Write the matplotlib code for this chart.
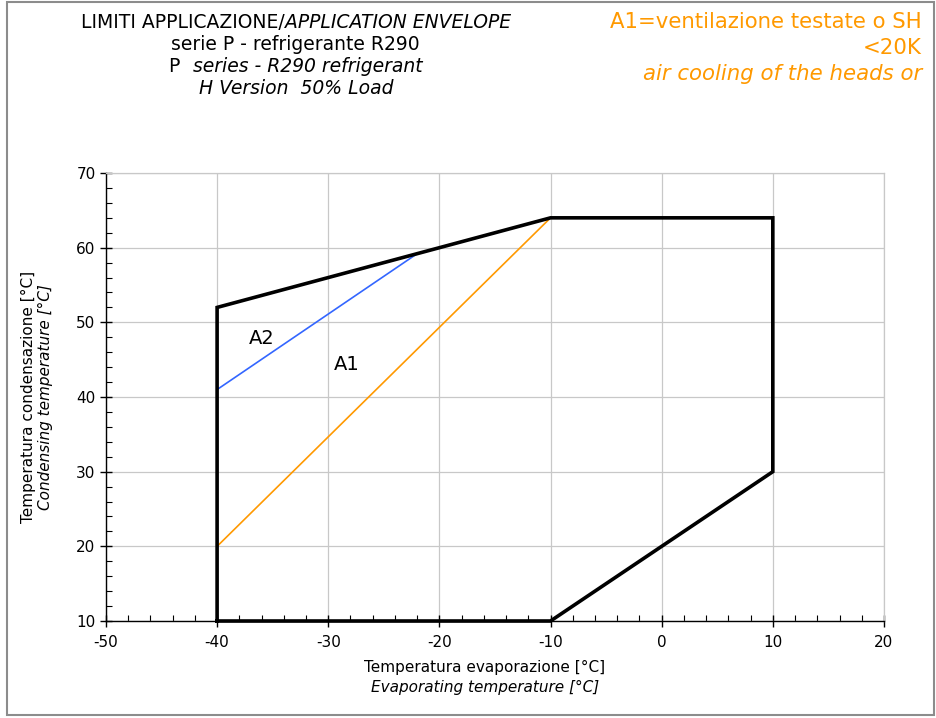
import matplotlib
matplotlib.use("Agg")
import matplotlib.pyplot as plt
from matplotlib.ticker import MultipleLocator
from matplotlib.patches import Rectangle

plt.rcParams['font.family'] = ['DejaVu Sans']
plt.rcParams['axes.unicode_minus'] = False

# Application envelope (evaporating T, condensing T)
env_te = [-40, -40, -10, 10, 10, -10, -40]
env_tc = [10, 52, 64, 64, 30, 10, 10]

# A1 boundary (orange) and A2 boundary (blue)
a1_te = [-40, -10]
a1_tc = [20, 64]
a2_te = [-40, -22]
a2_tc = [41, 59.2]

zone_labels = ["A2", "A1"]
zone_te = [-36.0, -28.3]
zone_tc = [47.9, 44.3]

x_ticks = [-50, -40, -30, -20, -10, 0, 10, 20]
y_ticks = [10, 20, 30, 40, 50, 60, 70]

W, H = 936, 718
fig = plt.figure(figsize=(W / 100, H / 100), dpi=100)
ax = fig.add_axes([0.1132, 0.1351, 0.8312, 0.6239])

ax.plot(env_te, env_tc, color='black', lw=2.6, solid_joinstyle='miter', zorder=4, clip_on=False)
ax.plot(a1_te, a1_tc, color='#FF9900', lw=1.2, zorder=3)
ax.plot(a2_te, a2_tc, color='#3366FF', lw=1.2, zorder=3)

for lab, xv, yv in zip(zone_labels, zone_te, zone_tc):
    ax.text(xv, yv, lab, fontsize=14, ha='center', va='center', color='black')

ax.set_xlim(-50, 20)
ax.set_ylim(10, 70)
ax.set_xticks(x_ticks)
ax.set_yticks(y_ticks)
ax.xaxis.set_minor_locator(MultipleLocator(2))
ax.yaxis.set_minor_locator(MultipleLocator(2))
ax.grid(True, which='major', color='#C8C8C8', lw=0.9)
ax.set_axisbelow(True)
for s in ['top', 'right']:
    ax.spines[s].set_color('#C8C8C8')
    ax.spines[s].set_linewidth(0.9)
for s in ['left', 'bottom']:
    ax.spines[s].set_linewidth(1.0)
ax.tick_params(which='major', direction='inout', length=8, width=1, labelsize=11, colors='black')
ax.tick_params(which='minor', direction='in', length=4, width=0.8)
ax.tick_params(axis='x', pad=6)

fig.text(0.518, 0.070, "Temperatura evaporazione [°C]", ha='center', va='center', fontsize=11)
fig.text(0.518, 0.042, "Evaporating temperature [°C]", ha='center', va='center', fontsize=11, style='italic')

fig.text(0.030, 0.447, "Temperatura condensazione [°C]", rotation=90, ha='center', va='center', fontsize=11)
fig.text(0.049, 0.447, "Condensing temperature [°C]", rotation=90, ha='center', va='center', fontsize=11, style='italic')


def mixed_line(xc, y, pieces, size, color='black'):
    """Draw a line made of roman/italic pieces, centred at xc (figure coords)."""
    renderer = fig.canvas.get_renderer()
    arts = []
    for txt, st in pieces:
        t = fig.text(0, y, txt, ha='left', va='center', fontsize=size, style=st, color=color)
        arts.append(t)
    widths = [a.get_window_extent(renderer).width / W for a in arts]
    x = xc - sum(widths) / 2
    for a, w in zip(arts, widths):
        a.set_x(x)
        x += w


# Title block
tx = 0.316
ts = 13.5
mixed_line(tx, 0.969, [("LIMITI APPLICAZIONE/", 'normal'), ("APPLICATION ENVELOPE", 'italic')], ts)
mixed_line(tx, 0.938, [("serie P - refrigerante R290", 'normal')], ts)
mixed_line(tx, 0.907, [("P  ", 'normal'), ("series - R290 refrigerant", 'italic')], ts)
mixed_line(tx, 0.877, [("H Version  50% Load", 'italic')], ts)

# Note on zone A1
orange = '#FF9900'
fig.text(0.985, 0.969, "A1=ventilazione testate o SH", ha='right', va='center', fontsize=15.3, color=orange)
fig.text(0.985, 0.933, "<20K", ha='right', va='center', fontsize=15.3, color=orange)
fig.text(0.985, 0.897, "air cooling of the heads or", ha='right', va='center', fontsize=15.3, color=orange, style='italic')

fig.patches.append(Rectangle((0.008, 0.004), 0.99, 0.993, transform=fig.transFigure,
                             fill=False, edgecolor='#8C8C8C', lw=1.5))

fig.savefig("out.png", dpi=100)
